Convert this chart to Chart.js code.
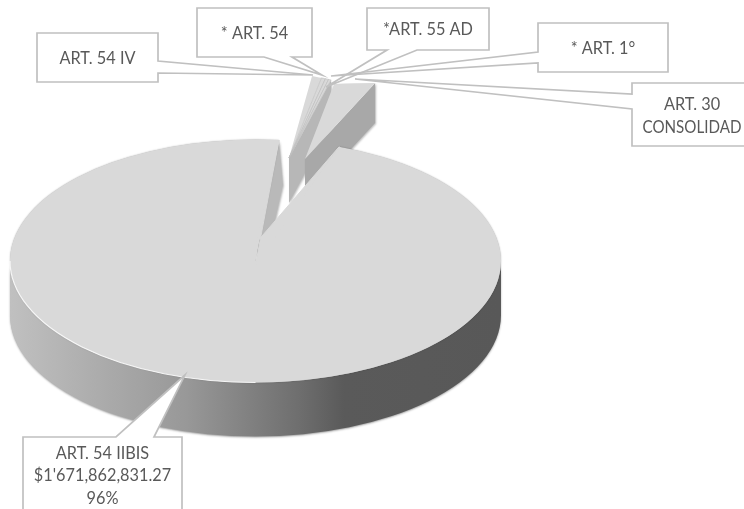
<!DOCTYPE html>
<html>
<head>
<meta charset="utf-8">
<style>
  html, body { margin: 0; background: #fff; overflow: hidden; }
  #wrap { width: 744px; height: 509px; }
</style>
<script src="https://cdn.jsdelivr.net/npm/chart.js@4/dist/chart.umd.js"></script>
</head>
<body>
<div id="wrap"><canvas id="pie"></canvas></div>
<script>
// Data
const categories = ['ART. 54 IIBIS', 'ART. 54 IV', '* ART. 54', '*ART. 55 AD', '* ART. 1°', 'ART. 30 CONSOLIDAD'];
const values = [1671862831.27, 12000000, 5000000, 4000000, 3200000, 45460000];
const labelLines = [
  ['ART. 54 IIBIS', "$1'671,862,831.27", '96%'],
  ['ART. 54 IV'],
  ['* ART. 54'],
  ['*ART. 55 AD'],
  ['* ART. 1°'],
  ['ART. 30', 'CONSOLIDAD']
];

// How each exploded piece lands on the page (Excel 3D perspective, faked with one affine per piece)
const bigFace = { x: 255.5, y: 261, ax: 245.5, bx: 0, cy: 121.5, dy: 0 };
const leftFace = { x: 289, y: 158, ax: 220.6, bx: 1.9, cy: 85.7, dy: -34 };
const rightFace = { x: 305, y: 159, ax: 254.9, bx: -17.7, cy: 71.6, dy: 25.8 };
const sliceFaces = [bigFace, leftFace, leftFace, leftFace, leftFace, rightFace];
const bigApex = { x: 256, y: 243 };
const bigDepth = 54;
const TOP = '#d9d9d9';

// Label boxes: box, then the two tail roots and the tail tip
const callouts = [
  { box: [23, 437, 159, 80], tail: [[116, 437], [154, 437]], tip: [185, 375], cx: 102.5, cy: 476 },
  { box: [37, 33, 121, 49], tail: [[158, 61], [158, 73]], tip: [313, 75], cx: 97.5, cy: 58.5 },
  { box: [197, 8, 115, 49], tail: [[264, 57], [292, 57]], tip: [322, 75], cx: 254.5, cy: 33.5 },
  { box: [367, 8, 122, 42], tail: [[387, 50], [417, 50]], tip: [326, 87], cx: 428, cy: 30 },
  { box: [538, 23, 130, 49], tail: [[538, 52], [538, 63]], tip: [331, 76], cx: 603, cy: 49 },
  { box: [632, 83, 122, 63], tail: [[632, 94], [632, 109]], tip: [355, 79], cx: 692, cy: 116, maxWidth: 99 }
];

function project(face, angle) {
  return {
    x: face.x + face.ax * Math.cos(angle) - face.bx * Math.sin(angle),
    y: face.y + face.cy * Math.sin(angle) - face.dy * Math.cos(angle)
  };
}

function drawFace(ctx, arc, face) {
  const r = arc.outerRadius;
  ctx.save();
  ctx.transform(face.ax / r, -face.dy / r, -face.bx / r, face.cy / r, face.x, face.y);
  ctx.translate(-arc.x, -arc.y);
  arc.draw(ctx);
  ctx.restore();
}

function drawWall(ctx, from, to, depth, color, lean = 0) {
  ctx.save();
  ctx.fillStyle = color;
  ctx.shadowColor = 'rgba(0,0,0,0.25)';
  ctx.shadowBlur = 2;
  ctx.shadowOffsetX = 1;
  ctx.shadowOffsetY = 1;
  ctx.beginPath();
  ctx.moveTo(from.x, from.y);
  ctx.lineTo(to.x, to.y);
  ctx.lineTo(to.x + lean, to.y + depth);
  ctx.lineTo(from.x + lean, from.y + depth);
  ctx.closePath();
  ctx.fill();
  ctx.restore();
}

// Pie with a thickness. Angles still come from the doughnut controller
class Pie3DController extends Chart.PieController {
  static id = 'pie3d';
  static defaults = Chart.PieController.defaults;

  draw() {
    const ctx = this.chart.ctx;
    const arcs = this._cachedMeta.data;
    const big = arcs[0];
    const right = arcs[5];

    // far pieces first
    drawWall(ctx, project(leftFace, arcs[4].endAngle), { x: leftFace.x, y: leftFace.y }, 45, '#b7b7b7');
    for (let i = 1; i <= 4; i++) drawFace(ctx, arcs[i], sliceFaces[i]);
    drawWall(ctx, project(rightFace, right.endAngle), { x: rightFace.x, y: rightFace.y }, 40, '#a8a8a8');
    drawFace(ctx, right, sliceFaces[5]);

    // big slice, side wall
    const rimA = project(bigFace, big.startAngle);
    const rimB = project(bigFace, big.endAngle);
    drawWall(ctx, rimB, bigApex, 45, '#b9b9b9', 4);

    const grad = ctx.createLinearGradient(bigFace.x - bigFace.ax, 0, bigFace.x + bigFace.ax, 0);
    grad.addColorStop(0, '#c0c0c0');
    grad.addColorStop(0.36, '#989898');
    grad.addColorStop(0.59, '#6e6e6e');
    grad.addColorStop(0.68, '#5a5a5a');
    grad.addColorStop(1, '#585858');
    ctx.save();
    ctx.fillStyle = grad;
    ctx.shadowColor = 'rgba(0,0,0,0.35)';
    ctx.shadowBlur = 2;
    ctx.shadowOffsetY = 1;
    ctx.beginPath();
    ctx.ellipse(bigFace.x, bigFace.y, bigFace.ax, bigFace.cy, 0, 0, Math.PI);
    ctx.ellipse(bigFace.x, bigFace.y + bigDepth, bigFace.ax, bigFace.cy, 0, Math.PI, 0, true);
    ctx.closePath();
    ctx.fill();
    ctx.restore();

    // big slice, top. The perspective centre sits above the ellipse centre
    ctx.save();
    ctx.shadowColor = 'rgba(0,0,0,0.35)';
    ctx.shadowBlur = 1.5;
    drawFace(ctx, big, sliceFaces[0]);
    ctx.restore();
    ctx.fillStyle = TOP;
    ctx.strokeStyle = TOP;
    ctx.lineWidth = 1;
    ctx.lineJoin = 'bevel';
    ctx.beginPath();
    ctx.moveTo(bigFace.x, bigFace.y + 4);
    ctx.lineTo(rimA.x, rimA.y);
    ctx.lineTo(bigApex.x, bigApex.y);
    ctx.lineTo(rimB.x, rimB.y);
    ctx.closePath();
    ctx.fill();
    ctx.stroke();

    // light edge on the front left rim
    ctx.strokeStyle = 'rgba(255,255,255,0.85)';
    ctx.lineWidth = 1.2;
    ctx.beginPath();
    ctx.ellipse(bigFace.x, bigFace.y, bigFace.ax, bigFace.cy, 0, Math.PI * 0.5, Math.PI);
    ctx.stroke();
  }
}
Chart.register(Pie3DController);

const calloutPlugin = {
  id: 'callouts',
  afterDraw(chart) {
    const ctx = chart.ctx;
    ctx.save();
    ctx.font = '16.3px Lato';
    ctx.textAlign = 'center';
    ctx.textBaseline = 'middle';
    ctx.lineJoin = 'miter';
    callouts.forEach((c, i) => {
      const [x, y, w, h] = c.box;
      const [p, q] = c.tail;
      ctx.beginPath();
      // walk round the box and break out to the tip where the tail roots are
      const pts = [[x, y], [x + w, y], [x + w, y + h], [x, y + h]];
      pts.forEach((pt, k) => {
        const nx = pts[(k + 1) % 4];
        if (k === 0) ctx.moveTo(pt[0], pt[1]);
        ctx.lineTo(pt[0], pt[1]);
        const onSide = (a) => (pt[0] === nx[0] && a[0] === pt[0]) || (pt[1] === nx[1] && a[1] === pt[1]);
        if (onSide(p) && onSide(q)) {
          const forward = (nx[0] - pt[0]) * (q[0] - p[0]) + (nx[1] - pt[1]) * (q[1] - p[1]) > 0;
          const [s, e] = forward ? [p, q] : [q, p];
          ctx.lineTo(s[0], s[1]);
          ctx.lineTo(c.tip[0], c.tip[1]);
          ctx.lineTo(e[0], e[1]);
        }
      });
      ctx.closePath();
      ctx.fillStyle = '#fff';
      ctx.fill();
      ctx.strokeStyle = '#c0c0c0';
      ctx.lineWidth = 1.7;
      ctx.stroke();

      ctx.fillStyle = '#595959';
      const lines = labelLines[i];
      const lh = 22.5;
      lines.forEach((line, n) => {
        ctx.fillText(line, c.cx, c.cy + (n - (lines.length - 1) / 2) * lh, c.maxWidth);
      });
    });
    ctx.restore();
  }
};

new Chart(document.getElementById('pie'), {
  type: 'pie3d',
  data: {
    labels: categories,
    datasets: [{
      data: values,
      backgroundColor: TOP,
      borderColor: '#bdbdbd',
      borderWidth: [0, 0, 1, 1, 1, 0],
      borderAlign: 'center'
    }]
  },
  options: {
    responsive: true,
    maintainAspectRatio: false,
    animation: false,
    rotation: 19.9,
    plugins: { legend: { display: false }, tooltip: { enabled: false } }
  },
  plugins: [calloutPlugin]
});
</script>
</body>
</html>
